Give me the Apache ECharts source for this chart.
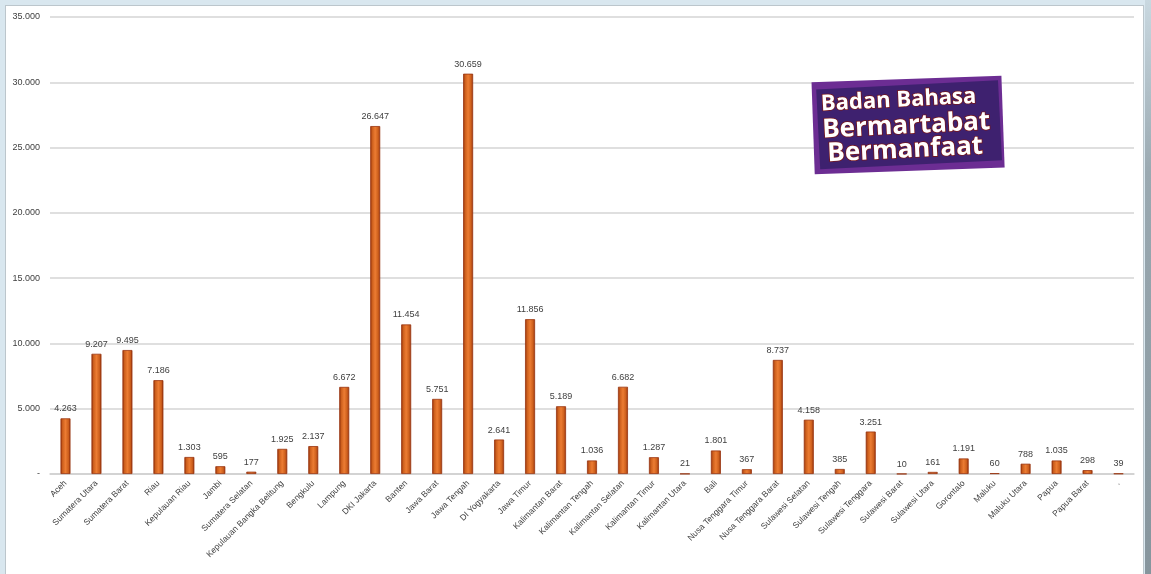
<!DOCTYPE html>
<html>
<head>
<meta charset="utf-8">
<script src="https://cdn.jsdelivr.net/npm/echarts@6/dist/echarts.min.js"></script>
<style>
  html, body { margin: 0; padding: 0; }
  body { width: 1151px; height: 574px; overflow: hidden; background: #d9e7ef; position: relative; }
  #panel { position: absolute; left: 5px; top: 5px; width: 1139px; height: 620px; background: #ffffff; border: 1px solid #bcc6cc; box-sizing: border-box; }
  #edge { position: absolute; left: 1145px; top: 0; width: 6px; height: 574px; background: linear-gradient(to bottom, #c9d8e0 0%, #9aa9b1 30%, #86959d 100%); }
  #chart { position: absolute; left: 0; top: 0; width: 1151px; height: 574px; }
</style>
</head>
<body>
<div id="panel"></div>
<div id="edge"></div>
<div id="chart"></div>
<script>
// Provinces (category axis)
const provinces = [
  'Aceh', 'Sumatera Utara', 'Sumatera Barat', 'Riau', 'Kepulauan Riau', 'Jambi',
  'Sumatera Selatan', 'Kepulauan Bangka Belitung', 'Bengkulu', 'Lampung', 'DKI Jakarta',
  'Banten', 'Jawa Barat', 'Jawa Tengah', 'DI Yogyakarta', 'Jawa Timur', 'Kalimantan Barat',
  'Kalimantan Tengah', 'Kalimantan Selatan', 'Kalimantan Timur', 'Kalimantan Utara', 'Bali',
  'Nusa Tenggara Timur', 'Nusa Tenggara Barat', 'Sulawesi Selatan', 'Sulawesi Tengah',
  'Sulawesi Tenggara', 'Sulawesi Barat', 'Sulawesi Utara', 'Gorontalo', 'Maluku',
  'Maluku Utara', 'Papua', 'Papua Barat', '.'
];

// Value per province
const totals = [
  4263, 9207, 9495, 7186, 1303, 595,
  177, 1925, 2137, 6672, 26647,
  11454, 5751, 30659, 2641, 11856, 5189,
  1036, 6682, 1287, 21, 1801,
  367, 8737, 4158, 385,
  3251, 10, 161, 1191, 60,
  788, 1035, 298, 39
];

// Value axis range
const yMin = 0;
const yMax = 35000;
const yStep = 5000;

// Indonesian-style thousands separator
function fmt(v) {
  return String(Math.round(v)).replace(/\B(?=(\d{3})+(?!\d))/g, '.');
}

const chart = echarts.init(document.getElementById('chart'));
const textColor = '#404040';
const baseFont = '"Liberation Sans", Arial, sans-serif';
const logoText = {
  fill: '#ffffff',
  stroke: '#7a1616', lineWidth: 1.5,
  textShadowColor: '#6e1212', textShadowOffsetX: 1.5, textShadowOffsetY: 1.5
};

chart.setOption({
  backgroundColor: 'transparent',
  animation: false,
  grid: { left: 50, right: 17, top: 17, bottom: 100, containLabel: false },
  xAxis: {
    type: 'category',
    data: provinces,
    axisLine: { show: true, lineStyle: { color: '#d0d0d0', width: 1.5 } },
    axisTick: { show: false },
    axisLabel: {
      interval: 0, rotate: 45, margin: 8,
      color: textColor, fontSize: 8.5, fontFamily: baseFont
    }
  },
  yAxis: {
    type: 'value',
    min: yMin, max: yMax, interval: yStep,
    axisLine: { show: false },
    axisTick: { show: false },
    splitLine: { lineStyle: { color: '#d4d4d4', width: 1.5 } },
    axisLabel: {
      margin: 10, color: textColor, fontSize: 9, fontFamily: baseFont,
      formatter: v => (v === 0 ? '-' : fmt(v))
    }
  },
  series: [{
    type: 'bar',
    data: totals,
    barWidth: 10,
    itemStyle: {
      color: new echarts.graphic.LinearGradient(0, 0, 1, 0, [
        { offset: 0, color: '#8a2c08' },
        { offset: 0.2, color: '#cc5e1c' },
        { offset: 0.5, color: '#ec7c32' },
        { offset: 0.8, color: '#cc5e1c' },
        { offset: 1, color: '#8a2c08' }
      ]),
      borderColor: '#9a3510',
      borderWidth: 0.8
    },
    label: {
      show: true, position: 'top', distance: 5,
      color: textColor, fontSize: 9, fontFamily: baseFont,
      formatter: p => fmt(p.value)
    }
  }],
  graphic: [{
    type: 'group',
    x: 906, y: 123,
    z: 100,
    children: [
      {
        type: 'rect', rotation: 0.035, z: 100,
        shape: { x: -93, y: -44, width: 190, height: 92 },
        style: { fill: '#6c2d93' }
      },
      {
        type: 'rect', rotation: 0.05, z: 101,
        shape: { x: -88, y: -38, width: 182, height: 80 },
        style: { fill: '#3e216f' }
      },
      {
        type: 'group', rotation: 0.05, z: 102,
        children: [
          {
            type: 'text', x: -84, y: -34, z: 102,
            style: Object.assign({ text: 'Badan Bahasa', font: 'bold 22px "Open Sans", sans-serif' }, logoText)
          },
          {
            type: 'text', x: -84, y: -10, z: 102,
            style: Object.assign({ text: 'Bermartabat', font: 'bold 26px "Open Sans", sans-serif' }, logoText)
          },
          {
            type: 'text', x: -80, y: 14, z: 102,
            style: Object.assign({ text: 'Bermanfaat', font: 'bold 26px "Open Sans", sans-serif' }, logoText)
          }
        ]
      }
    ]
  }]
});
</script>
</body>
</html>
